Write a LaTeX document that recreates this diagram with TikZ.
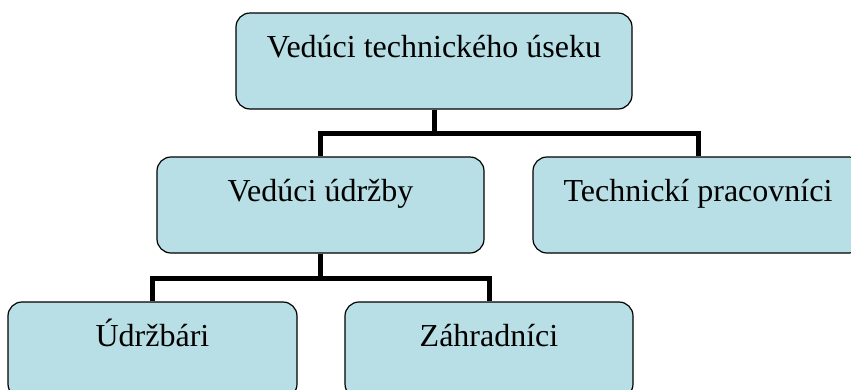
\documentclass[tikz,border=0pt]{standalone}
\usepackage{fontspec}
\setmainfont{Liberation Serif}
\usepackage{tikz}
\usetikzlibrary{calc}
\definecolor{boxfill}{RGB}{184,223,229}
\tikzset{
  orgbox/.style={
    draw=black,fill=boxfill,line width=1.2pt,rounded corners=14pt,
    inner xsep=0pt,inner ysep=0pt,text height=44pt,text depth=52pt,
    font=\fontsize{32}{38}\selectfont,
  },
  link/.style={line width=5pt,black},
}

\begin{document}
\begin{tikzpicture}[x=1pt,y=-1pt]
    \useasboundingbox (0,0) rectangle (851,389);
    \clip (0,0) rectangle (851,389);
    % boxes
    \node [orgbox, minimum width=396pt] (head) at (434,61) {Vedúci technického úseku};
    \node [orgbox, minimum width=327pt] (maint) at (320.5,205) {Vedúci údržby};
    \node [orgbox, minimum width=330pt] (staff) at (698,205) {Technickí pracovníci};
    \node [orgbox, minimum width=289pt] (repair) at (152.5,350) {Údržbári};
    \node [orgbox, minimum width=288pt] (garden) at (489,350) {Záhradníci};
    % connectors
    \draw [link] (head.south) -- ++(0,24) -| (maint.north);
    \draw [link] (head.south) -- ++(0,24) -| (staff.north);
    \draw [link] (maint.south) -- ++(0,25) -| (repair.north);
    \draw [link] (maint.south) -- ++(0,25) -| (garden.north);
\end{tikzpicture}
\end{document}
